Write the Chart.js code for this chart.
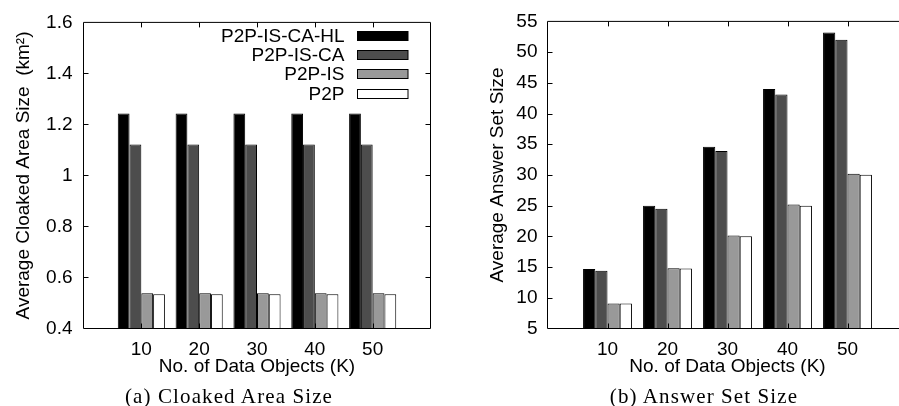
<!DOCTYPE html>
<html lang="en">
<head>
    <meta charset="UTF-8">
    <title>Cloaked Area Size / Answer Set Size</title>
    <script src="https://cdn.jsdelivr.net/npm/chart.js"></script>
    <style>
        html, body {
            margin: 0;
            padding: 0;
            width: 899px;
            height: 406px;
            overflow: hidden;
            background: #fff;
        }
        canvas {
            position: absolute;
            top: 0;
        }
        #chartA { left: 0; }
        #chartB { left: 450px; }
        .caption {
            position: absolute;
            width: 300px;
            top: 385px;
            line-height: 22px;
            text-align: center;
            font-family: "Liberation Serif", serif;
            font-size: 21px;
            letter-spacing: 1.1px;
            color: #000;
        }
    </style>
</head>
<body>
    <canvas id="chartA" width="450" height="406"></canvas>
    <canvas id="chartB" width="470" height="406"></canvas>
    <div class="caption" style="left: 79px;">(a) Cloaked Area Size</div>
    <div class="caption" style="left: 554px;">(b) Answer Set Size</div>

    <script>
        // x values (thousands of data objects)
        const objects = [10, 20, 30, 40, 50];
        const seriesNames = ['P2P-IS-CA-HL', 'P2P-IS-CA', 'P2P-IS', 'P2P'];
        const fills = ['#000000', '#4d4d4d', '#999999', '#ffffff'];

        // (a) average cloaked area size, km^2
        const areaHL  = [1.243, 1.243, 1.243, 1.243, 1.243];
        const areaCA  = [1.121, 1.121, 1.121, 1.121, 1.121];
        const areaIS  = [0.538, 0.538, 0.538, 0.538, 0.538];
        const areaP2P = [0.534, 0.534, 0.534, 0.534, 0.534];
        const areaTicks = [0.4, 0.6, 0.8, 1, 1.2, 1.4, 1.6];

        // (b) average answer set size
        const answerHL  = [14.7, 25.0, 34.6, 44.0, 53.2];
        const answerCA  = [14.4, 24.5, 33.9, 43.1, 52.0];
        const answerIS  = [9.05, 14.8, 20.15, 25.2, 30.2];
        const answerP2P = [9.05, 14.75, 20.0, 25.0, 30.05];
        const answerTicks = [5, 10, 15, 20, 25, 30, 35, 40, 45, 50, 55];

        Chart.defaults.font.family = '"Liberation Sans", Arial, sans-serif';
        Chart.defaults.font.size = 19;
        Chart.defaults.color = '#000';

        const TICK = 5;

        // gnuplot style box with inward ticks on all four sides
        const frameTicks = {
            id: 'frameTicks',
            afterDatasetsDraw(chart) {
                const {ctx, chartArea: a, scales: {x, y}} = chart;
                ctx.save();
                ctx.strokeStyle = '#000';
                ctx.lineWidth = 1;
                ctx.beginPath();
                ctx.rect(a.left, a.top, a.right - a.left, a.bottom - a.top);
                y.ticks.forEach(t => {
                    const py = Math.round(y.getPixelForValue(t.value)) + 0.5;
                    if (py <= a.top + 1 || py >= a.bottom - 1) return;
                    ctx.moveTo(a.left, py); ctx.lineTo(a.left + TICK, py);
                    ctx.moveTo(a.right, py); ctx.lineTo(a.right - TICK, py);
                });
                x.ticks.forEach(t => {
                    const px = Math.round(x.getPixelForValue(t.value)) + 0.5;
                    ctx.moveTo(px, a.top); ctx.lineTo(px, a.top + TICK);
                    ctx.moveTo(px, a.bottom); ctx.lineTo(px, a.bottom - TICK);
                });
                ctx.stroke();
                ctx.restore();
            }
        };

        // key in the upper right corner of the plot
        const boxLegend = {
            id: 'boxLegend',
            afterDatasetsDraw(chart, args, opts) {
                if (!opts.show) return;
                const {ctx, chartArea: a} = chart;
                const w = 50.5, h = 9;
                const sx = a.right - 22.5 - w;
                ctx.save();
                ctx.font = '19px "Liberation Sans", Arial, sans-serif';
                ctx.textAlign = 'right';
                ctx.textBaseline = 'middle';
                chart.data.datasets.forEach((ds, i) => {
                    const cy = Math.round(a.top + 13.5 + i * 19.2);
                    ctx.fillStyle = ds.backgroundColor;
                    ctx.fillRect(sx, cy - h / 2, w, h);
                    ctx.strokeStyle = '#000';
                    ctx.lineWidth = 1;
                    ctx.strokeRect(sx, cy - h / 2, w, h);
                    ctx.fillStyle = '#000';
                    ctx.fillText(ds.label, sx - 13, cy + 1);
                });
                ctx.restore();
            }
        };

        function makeDatasets(series) {
            return series.map((vals, i) => ({
                label: seriesNames[i],
                data: objects.map((x, j) => ({x: x, y: vals[j]})),
                backgroundColor: fills[i],
                borderColor: '#000',
                borderWidth: 1,
                categoryPercentage: 0.815,
                barPercentage: 1.0
            }));
        }

        function makeChart(id, series, yTicks, yTitle, opts) {
            new Chart(document.getElementById(id), {
                type: 'bar',
                data: { datasets: makeDatasets(series) },
                options: {
                    responsive: false,
                    animation: false,
                    layout: { padding: { top: 13.5, right: opts.padRight, bottom: 28, left: 0 } },
                    plugins: {
                        legend: { display: false },
                        tooltip: { enabled: false },
                        boxLegend: { show: opts.legend }
                    },
                    scales: {
                        x: {
                            type: 'linear',
                            offset: false,
                            min: 0,
                            max: 60,
                            afterBuildTicks: s => { s.ticks = objects.map(v => ({value: v})); },
                            afterFit: s => { s.height = 49.5; },
                            grid: { display: false, drawTicks: false, offset: false },
                            border: { display: false },
                            ticks: { padding: 10, maxRotation: 0, callback: v => String(v) },
                            title: { display: true, text: 'No. of Data Objects (K)', padding: { top: 0, bottom: 0 } }
                        },
                        y: {
                            min: yTicks[0],
                            max: yTicks[yTicks.length - 1],
                            afterBuildTicks: s => { s.ticks = yTicks.map(v => ({value: v})); },
                            afterFit: s => { s.width = opts.yWidth; },
                            grid: { display: false, drawTicks: false },
                            border: { display: false },
                            ticks: { padding: opts.tickPad, callback: v => String(v) },
                            title: { display: true, text: yTitle, padding: { top: opts.titlePad, bottom: 0 } }
                        }
                    }
                },
                plugins: [frameTicks, boxLegend]
            });
        }

        makeChart('chartA', [areaHL, areaCA, areaIS, areaP2P], areaTicks,
            'Average Cloaked Area Size  (km²)',
            { yWidth: 83.5, padRight: 19.5, tickPad: 11, titlePad: 12, legend: true });

        makeChart('chartB', [answerHL, answerCA, answerIS, answerP2P], answerTicks,
            'Average Answer Set Size',
            { yWidth: 97.5, padRight: 12.5, tickPad: 10, titlePad: 36, legend: false });
    </script>
</body>
</html>
